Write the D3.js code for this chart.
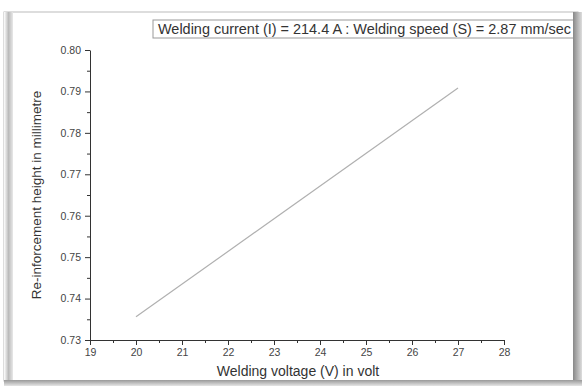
<!DOCTYPE html>
<html>
<head>
<meta charset="utf-8">
<script src="https://cdn.jsdelivr.net/npm/d3@7"></script>
<style>
  body { margin: 0; background: #fff; }
  svg { display: block; font-family: "Liberation Sans", Arial, sans-serif; }
  .axis path, .axis line { stroke: #333; }
  .axis text { fill: #444; font-size: 10.5px; }
</style>
</head>
<body>
<svg id="chart"></svg>
<script>
// data
const voltage = [20, 27];
const reinforcement = [0.7356, 0.7908];
const xTicks = [19, 20, 21, 22, 23, 24, 25, 26, 27, 28];
const yTicks = [0.73, 0.74, 0.75, 0.76, 0.77, 0.78, 0.79, 0.80];
const titleText = "Welding current (I) = 214.4 A : Welding speed (S) = 2.87 mm/sec";

const width = 582, height = 386;
const margin = {top: 50, right: 78, bottom: 46, left: 90};
const innerW = width - margin.left - margin.right;
const innerH = height - margin.top - margin.bottom;

const svg = d3.select('#chart')
    .attr('width', width)
    .attr('height', height);

// window-like frame with shaded borders
const defs = svg.append('defs');
const gl = defs.append('linearGradient').attr('id', 'gl').attr('x1', 0).attr('x2', 1);
gl.append('stop').attr('offset', 0).attr('stop-color', '#fff');
gl.append('stop').attr('offset', 0.5).attr('stop-color', '#bbb');
gl.append('stop').attr('offset', 1).attr('stop-color', '#e8e8e8');
const gr = defs.append('linearGradient').attr('id', 'gr').attr('x1', 0).attr('x2', 1);
gr.append('stop').attr('offset', 0).attr('stop-color', '#888');
gr.append('stop').attr('offset', 1).attr('stop-color', '#ddd');
const gb = defs.append('linearGradient').attr('id', 'gb').attr('x1', 0).attr('x2', 0).attr('y1', 0).attr('y2', 1);
gb.append('stop').attr('offset', 0).attr('stop-color', '#999');
gb.append('stop').attr('offset', 1).attr('stop-color', '#e5e5e5');

svg.append('rect').attr('x', 4).attr('y', 12).attr('width', 574).attr('height', 369)
    .attr('fill', '#fff').attr('stroke', '#bbb');
svg.append('rect').attr('x', 4).attr('y', 12).attr('width', 9).attr('height', 369).attr('fill', 'url(#gl)');
svg.append('rect').attr('x', 573).attr('y', 12).attr('width', 9).attr('height', 374).attr('fill', 'url(#gr)');
svg.append('rect').attr('x', 4).attr('y', 380).attr('width', 578).attr('height', 6).attr('fill', 'url(#gb)');

const chart = svg.append('g')
    .attr('transform', `translate(${margin.left},${margin.top})`);

const xScale = d3.scaleLinear().domain([19, 28]).range([0, innerW]);
const yScale = d3.scaleLinear().domain([0.73, 0.80]).range([innerH, 0]);

// minor ticks
chart.append('g')
    .attr('class', 'axis')
    .attr('transform', `translate(0,${innerH})`)
    .call(d3.axisBottom(xScale).tickValues(d3.range(19.5, 28, 1)).tickSize(3).tickFormat(''))
    .call(g => g.select('.domain').remove());
chart.append('g')
    .attr('class', 'axis')
    .call(d3.axisLeft(yScale).tickValues(d3.range(0.735, 0.80, 0.01)).tickSize(3).tickFormat(''))
    .call(g => g.select('.domain').remove());

// major axes
chart.append('g')
    .attr('class', 'axis x-axis')
    .attr('transform', `translate(0,${innerH})`)
    .call(d3.axisBottom(xScale).tickValues(xTicks).tickSize(5).tickSizeOuter(0).tickFormat(d3.format('d')))
    .call(g => g.selectAll('text').attr('y', 8).attr('dy', '0.75em'));

chart.append('g')
    .attr('class', 'axis y-axis')
    .call(d3.axisLeft(yScale).tickValues(yTicks).tickSize(5).tickSizeOuter(0).tickFormat(d3.format('.2f')))
    .call(g => g.selectAll('text').attr('x', -9));

// the line
const points = voltage.map((v, i) => ({x: v, y: reinforcement[i]}));
chart.append('path')
    .datum(points)
    .attr('fill', 'none')
    .attr('stroke', '#b0b0b0')
    .attr('stroke-width', 1.2)
    .attr('d', d3.line().x(d => xScale(d.x)).y(d => yScale(d.y)));

// axis titles
chart.append('text')
    .attr('x', 298 - margin.left)
    .attr('y', innerH + 36)
    .attr('text-anchor', 'middle')
    .style('font-size', '14px')
    .attr('fill', '#333')
    .text('Welding voltage (V) in volt');

chart.append('text')
    .attr('transform', 'rotate(-90)')
    .attr('x', -(195 - margin.top))
    .attr('y', 41 - margin.left)
    .attr('text-anchor', 'middle')
    .style('font-size', '13.5px')
    .attr('fill', '#333')
    .text('Re-inforcement height in millimetre');

// title box
svg.append('rect')
    .attr('x', 153).attr('y', 20).attr('width', 425).attr('height', 18)
    .attr('fill', '#fff').attr('stroke', '#999');
svg.append('text')
    .attr('x', 158)
    .attr('y', 33.5)
    .style('font-size', '14px')
    .attr('textLength', 413)
    .attr('lengthAdjust', 'spacingAndGlyphs')
    .attr('fill', '#333')
    .text(titleText);
// right border shade drawn over the title box
svg.append('rect').attr('x', 573).attr('y', 12).attr('width', 9).attr('height', 30).attr('fill', 'url(#gr)');
</script>
</body>
</html>
